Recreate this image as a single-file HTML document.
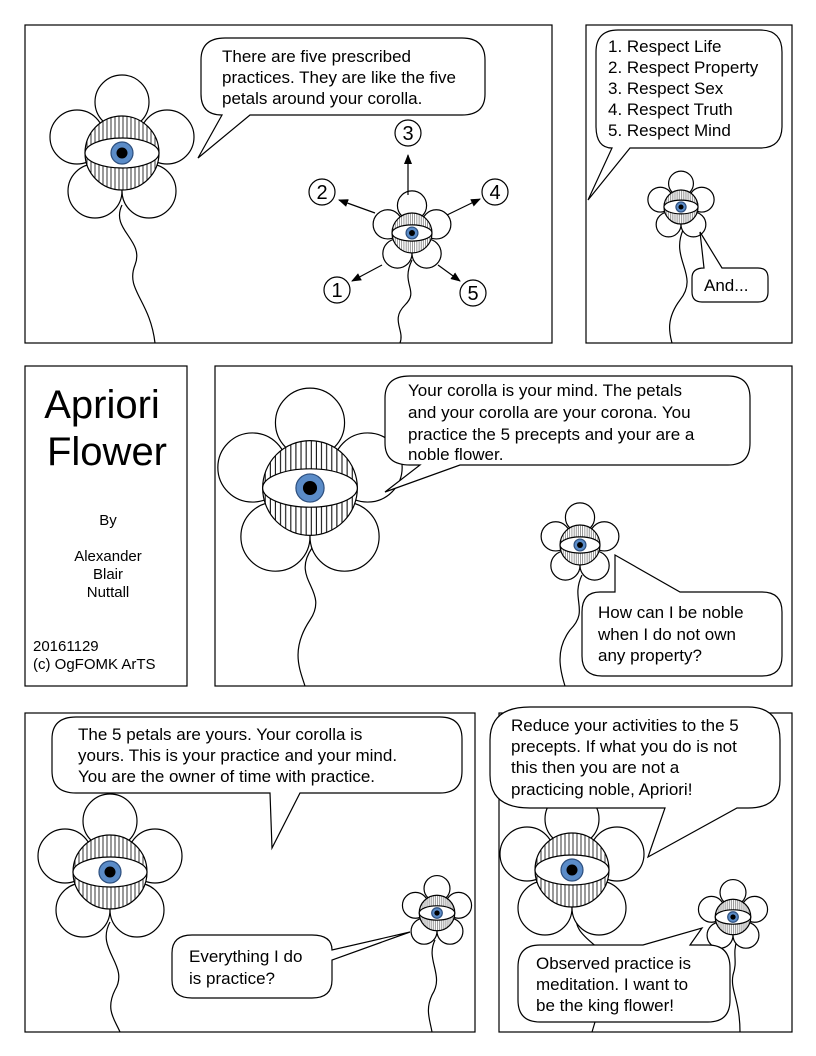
<!DOCTYPE html>
<html><head><meta charset="utf-8"><style>
html,body{margin:0;padding:0;background:#fff;}
svg{display:block;}
text{font-family:"Liberation Sans",sans-serif;fill:#000;}
</style></head><body>
<svg width="816" height="1056" viewBox="0 0 816 1056" xmlns="http://www.w3.org/2000/svg">
<defs>
<pattern id="h" patternUnits="userSpaceOnUse" width="4" height="10"><rect width="4" height="10" fill="#fff"/><line x1="1" y1="0" x2="1" y2="10" stroke="#000" stroke-width="0.8"/></pattern>
<symbol id="fl" overflow="visible">
<g stroke="#000" stroke-width="1.2" fill="#fff">
<circle cx="0" cy="-51" r="27" vector-effect="non-scaling-stroke"/>
<circle cx="-45" cy="-16" r="27" vector-effect="non-scaling-stroke"/>
<circle cx="45" cy="-16" r="27" vector-effect="non-scaling-stroke"/>
<circle cx="-27" cy="38" r="27" vector-effect="non-scaling-stroke"/>
<circle cx="27" cy="38" r="27" vector-effect="non-scaling-stroke"/>
<circle cx="0" cy="0" r="37" fill="url(#h)" vector-effect="non-scaling-stroke"/>
<ellipse cx="0" cy="0" rx="37" ry="15" vector-effect="non-scaling-stroke"/>
<circle cx="0" cy="0" r="11" fill="#5b8cc8" stroke="#2d4f7e" vector-effect="non-scaling-stroke"/>
<circle cx="0" cy="0" r="5.5" fill="#000" stroke="none"/>
</g>
</symbol>
<marker id="ar" markerWidth="10" markerHeight="8" refX="9" refY="4" orient="auto" markerUnits="userSpaceOnUse"><path d="M0,0 L10,4 L0,8 z" fill="#000"/></marker>
</defs>
<g fill="none" stroke="#000" stroke-width="1.2">
<rect x="25" y="25" width="527" height="318"/>
<rect x="586" y="25" width="206" height="318"/>
<rect x="25" y="366" width="162" height="320"/>
<rect x="215" y="366" width="577" height="320"/>
<rect x="25" y="713" width="450" height="319"/>
<rect x="499" y="713" width="293" height="319"/>
</g>
<!-- stems -->
<g fill="none" stroke="#000" stroke-width="1.2">
<path d="M122,205 C110,230 145,240 135,265 C125,290 150,300 155,343"/>
<path d="M412,260 C400,285 420,290 405,305 C390,320 405,330 400,343"/>
<path d="M683,230 C670,260 700,275 680,300 C665,320 670,335 672,343"/>
<path d="M312,548 C290,580 330,590 310,620 C290,650 300,670 305,686"/>
<path d="M582,575 C570,600 590,610 570,630 C555,650 560,670 565,686"/>
<path d="M110,922 C95,950 130,965 115,990 C105,1010 115,1020 120,1032"/>
<path d="M435,940 C425,960 445,975 432,995 C425,1010 430,1020 432,1032"/>
<path d="M578,910 C570,930 590,940 600,950"/>
<path d="M737,940 C732,955 738,960 733,975 C730,990 740,1000 740,1032"/>
<path d="M595,1022 L592,1032"/>
</g>
<!-- flowers -->
<use href="#fl" transform="translate(122,153)"/>
<use href="#fl" transform="translate(412,233) scale(0.54)"/>
<use href="#fl" transform="translate(681,207) scale(0.46)"/>
<use href="#fl" transform="translate(310,488) scale(1.28)"/>
<use href="#fl" transform="translate(580,545) scale(0.54)"/>
<use href="#fl" transform="translate(110,872) scale(1.0)"/>
<use href="#fl" transform="translate(437,913) scale(0.48)"/>
<use href="#fl" transform="translate(572,870) scale(1.0)"/>
<use href="#fl" transform="translate(733,917) scale(0.48)"/>
<!-- arrows -->
<g stroke="#000" stroke-width="1.2" fill="none" marker-end="url(#ar)">
<line x1="408" y1="195" x2="408" y2="155"/>
<line x1="375" y1="213" x2="339" y2="200"/>
<line x1="447" y1="215" x2="480" y2="199"/>
<line x1="382" y1="265" x2="352" y2="281"/>
<line x1="438" y1="265" x2="460" y2="281"/>
</g>
<g stroke="#000" stroke-width="1.2" fill="#fff">
<circle cx="337" cy="290" r="13"/><circle cx="322" cy="192" r="13"/><circle cx="408" cy="133" r="13"/><circle cx="495" cy="192" r="13"/><circle cx="473" cy="293" r="13"/>
</g>
<g font-size="20" text-anchor="middle">
<text x="337" y="297">1</text><text x="322" y="199">2</text><text x="408" y="140">3</text><text x="495" y="199">4</text><text x="473" y="300">5</text>
</g>
<!-- bubbles -->
<g stroke="#000" stroke-width="1.2" fill="#fff">
<path d="M225,38 H462 Q485,38 485,60 V94 Q485,115 462,115 H250 L198,158 L222,115 Q201,115 201,94 V60 Q201,38 225,38 Z"/>
<path d="M618,30 H760 Q782,30 782,52 V126 Q782,148 760,148 H630 L588,200 L612,148 Q596,148 596,126 V52 Q596,30 618,30 Z"/>
<path d="M704,268 L700,232 L722,268 H758 Q768,268 768,278 V292 Q768,302 758,302 H702 Q692,302 692,292 V278 Q692,268 704,268 Z"/>
<path d="M410,376 H728 Q750,376 750,398 V443 Q750,465 728,465 H460 L385,492 L420,465 H410 Q385,465 385,443 V398 Q385,376 410,376 Z"/>
<path d="M600,592 H615 L615,555 L680,592 H762 Q782,592 782,612 V656 Q782,676 762,676 H602 Q582,676 582,656 V612 Q582,592 600,592 Z"/>
<path d="M76,717 H440 Q462,717 462,739 V771 Q462,793 440,793 H300 L272,848 L270,793 H76 Q52,793 52,771 V739 Q52,717 76,717 Z"/>
<path d="M192,935 H312 Q332,935 332,950 L410,932 L332,960 V980 Q332,998 312,998 H192 Q172,998 172,980 V953 Q172,935 192,935 Z"/>
<path d="M530,707 H748 Q780,707 780,740 V780 Q780,808 748,808 H737 L648,857 L665,808 H530 Q490,808 490,775 V740 Q490,707 530,707 Z"/>
<path d="M540,945 H643 L702,928 L690,945 H708 Q730,945 730,968 V1000 Q730,1022 708,1022 H540 Q518,1022 518,1000 V967 Q518,945 540,945 Z"/>
</g>
<g font-size="17">
<text x="222" y="62">There are five prescribed</text>
<text x="222" y="83">practices. They are like the five</text>
<text x="222" y="104">petals around your corolla.</text>
<text x="608" y="52">1. Respect Life</text>
<text x="608" y="73">2. Respect Property</text>
<text x="608" y="94">3. Respect Sex</text>
<text x="608" y="115">4. Respect Truth</text>
<text x="608" y="136">5. Respect Mind</text>
<text x="704" y="291">And...</text>
<text x="408" y="396">Your corolla is your mind. The petals</text>
<text x="408" y="418">and your corolla are your corona. You</text>
<text x="408" y="440">practice the 5 precepts and your are a</text>
<text x="408" y="460">noble flower.</text>
<text x="598" y="618">How can I be noble</text>
<text x="598" y="640">when I do not own</text>
<text x="598" y="661">any property?</text>
<text x="78" y="740">The 5 petals are yours. Your corolla is</text>
<text x="78" y="761">yours. This is your practice and your mind.</text>
<text x="78" y="782">You are the owner of time with practice.</text>
<text x="189" y="962">Everything I do</text>
<text x="189" y="984">is practice?</text>
<text x="511" y="731">Reduce your activities to the 5</text>
<text x="511" y="752">precepts. If what you do is not</text>
<text x="511" y="773">this then you are not a</text>
<text x="511" y="795">practicing noble, Apriori!</text>
<text x="536" y="969">Observed practice is</text>
<text x="536" y="990">meditation. I want to</text>
<text x="536" y="1011">be the king flower!</text>
</g>
<g text-anchor="middle">
<text x="102" y="418" font-size="40">Apriori</text>
<text x="107" y="465" font-size="40">Flower</text>
<text x="108" y="525" font-size="15">By</text>
<text x="108" y="561" font-size="15">Alexander</text>
<text x="108" y="579" font-size="15">Blair</text>
<text x="108" y="597" font-size="15">Nuttall</text>
</g>
<text x="33" y="651" font-size="15">20161129</text>
<text x="33" y="669" font-size="15">(c) OgFOMK ArTS</text>
</svg>
</body></html>
